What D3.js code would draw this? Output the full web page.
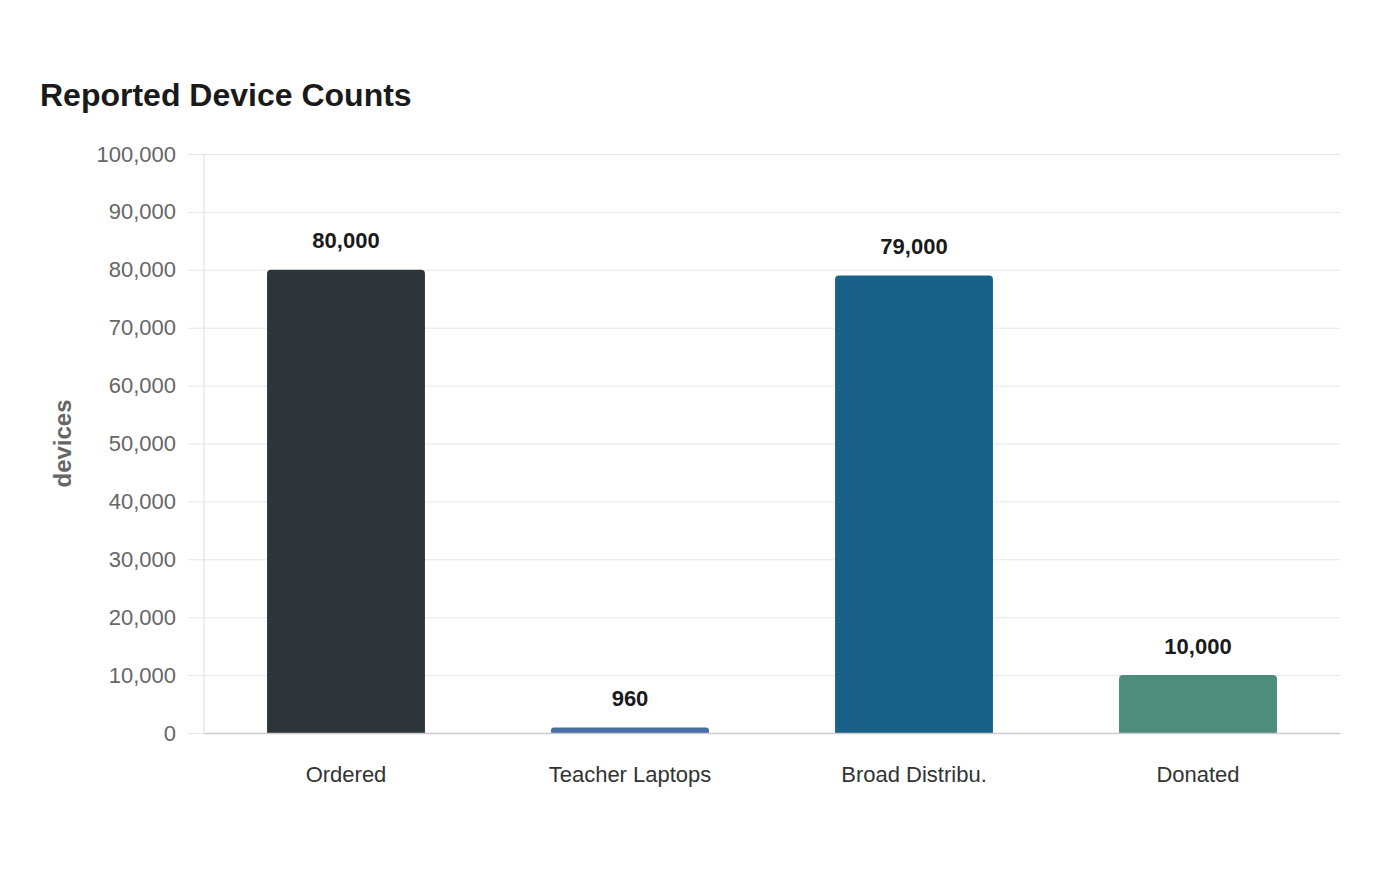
<!DOCTYPE html>
<html>
<head>
<meta charset="utf-8">
<title>Reported Device Counts</title>
<script src="https://d3js.org/d3.v7.min.js"></script>
<style>
  body { margin: 0; background: #fff; font-family: "Liberation Sans", Arial, sans-serif; }
</style>
</head>
<body>
<div id="chart"></div>
<script>
// data
var categories = ["Ordered", "Teacher Laptops", "Broad Distribu.", "Donated"];
var values = [80000, 960, 79000, 10000];
var barColors = ["#2e3538", "#4a6fa5", "#1a6189", "#4e8c7c"];
var yTicks = [0, 10000, 20000, 30000, 40000, 50000, 60000, 70000, 80000, 90000, 100000];

var W = 1400, H = 880;
var margin = {top: 154, right: 60, bottom: 147, left: 204};
var width = W - margin.left - margin.right;
var height = H - margin.top - margin.bottom;

var svg = d3.select("#chart").append("svg")
    .attr("width", W).attr("height", H);

svg.append("text")
    .attr("x", 40).attr("y", 106)
    .attr("font-size", 32).attr("font-weight", "bold")
    .attr("fill", "#1a1a1a")
    .text("Reported Device Counts");

var g = svg.append("g").attr("transform", "translate(" + margin.left + "," + margin.top + ")");

var x = d3.scaleBand().domain(categories).range([0, width]).paddingInner(0.444).paddingOuter(0.222);
var y = d3.scaleLinear().domain([0, 100000]).range([height, 0]);

// grid + y labels
var yAxis = g.append("g")
    .call(d3.axisLeft(y).tickValues(yTicks).tickFormat(d3.format(",")).tickSize(-width - 16).tickPadding(12))
    .attr("transform", "translate(-16,0)");
yAxis.select(".domain").remove();
yAxis.selectAll(".tick line").attr("stroke", "#e6e6e6").attr("x1", 0).attr("x2", width + 16);
yAxis.selectAll(".tick text").attr("font-size", 22).attr("fill", "#666")
    .attr("font-family", "Liberation Sans, Arial, sans-serif");

// left axis line
g.append("line").attr("x1", 0).attr("x2", 0).attr("y1", 0).attr("y2", height)
    .attr("stroke", "#ddd").attr("stroke-width", 1);

// y axis title
svg.append("text")
    .attr("transform", "translate(71," + (margin.top + height / 2) + ") rotate(-90)")
    .attr("text-anchor", "middle")
    .attr("font-size", 24).attr("font-weight", "bold").attr("fill", "#666")
    .text("devices");

// bars with rounded top corners
function barPath(d, i) {
  var x0 = x(categories[i]), x1 = x0 + x.bandwidth();
  var yb = y(0), yt = y(d);
  var r = Math.min(4, (yb - yt) / 2);
  return "M" + x0 + "," + yb + "V" + (yt + r) + "Q" + x0 + "," + yt + " " + (x0 + r) + "," + yt +
         "H" + (x1 - r) + "Q" + x1 + "," + yt + " " + x1 + "," + (yt + r) + "V" + yb + "Z";
}
g.append("g").selectAll("path").data(values).enter().append("path")
    .attr("d", barPath)
    .attr("fill", function(d, i) { return barColors[i]; });

// value labels
g.append("g").selectAll("text").data(values).enter().append("text")
    .attr("x", function(d, i) { return x(categories[i]) + x.bandwidth() / 2; })
    .attr("y", function(d) { return y(d) - 21.5; })
    .attr("text-anchor", "middle")
    .attr("font-size", 22).attr("font-weight", "bold").attr("fill", "#1a1a1a")
    .text(function(d) { return d3.format(",")(d); });

// x axis
var xAxis = g.append("g").attr("transform", "translate(0," + height + ")")
    .call(d3.axisBottom(x).tickSize(0).tickPadding(33));
xAxis.select(".domain").attr("stroke", "#ccc").attr("stroke-width", 1.5);
xAxis.selectAll(".tick text").attr("font-size", 22).attr("fill", "#333")
    .attr("font-family", "Liberation Sans, Arial, sans-serif");
</script>
</body>
</html>
